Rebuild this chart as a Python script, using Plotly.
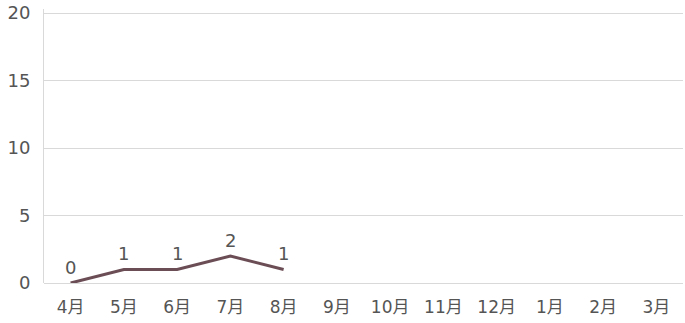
import plotly.graph_objects as go

months = ["4月", "5月", "6月", "7月", "8月", "9月", "10月", "11月", "12月", "1月", "2月", "3月"]
values = [0, 1, 1, 2, 1]
y_ticks = [0, 5, 10, 15, 20]

font_family = "DejaVu Sans, Noto Sans CJK JP, sans-serif"

fig = go.Figure()
fig.add_trace(go.Scatter(
    x=months[:len(values)],
    y=values,
    mode="lines",
    line=dict(color="#6b4d55", width=3),
    cliponaxis=False,
    hoverinfo="skip",
))
for m, v in zip(months, values):
    fig.add_annotation(x=m, y=v, text=str(v), showarrow=False, yshift=16,
                       font=dict(size=18, color="#555555", family=font_family))

fig.update_layout(
    width=685, height=323,
    margin=dict(l=44, r=2, t=5, b=40),
    paper_bgcolor="white",
    plot_bgcolor="white",
    showlegend=False,
    font=dict(family=font_family, color="#555555", size=17),
)
fig.update_xaxes(
    type="category",
    categoryorder="array",
    categoryarray=months,
    range=[-0.5, 11.5],
    showgrid=False,
    showline=False,
    ticks="",
    tickfont=dict(size=17, color="#555555"),
    ticklabelstandoff=12,
)
fig.update_yaxes(
    range=[0, 20.3],
    tickvals=y_ticks,
    showgrid=True,
    gridcolor="#d9d9d9",
    gridwidth=1,
    zeroline=True,
    zerolinecolor="#d9d9d9",
    zerolinewidth=1,
    showline=True,
    linecolor="#d9d9d9",
    linewidth=1,
    ticks="",
    tickfont=dict(size=18, color="#555555"),
    ticklabelstandoff=9,
    ticklabeloverflow="allow",
)

fig.write_html("out.html")
